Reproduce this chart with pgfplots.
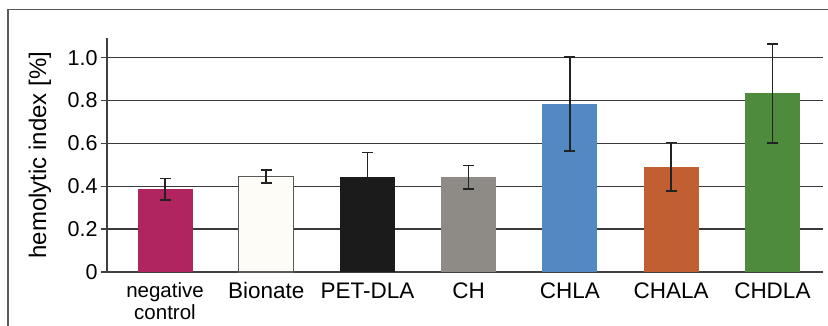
\documentclass[border=0pt]{standalone}
\usepackage{pgfplots}
\pgfplotsset{compat=1.18}
\usepackage{fontspec}
\setmainfont{Liberation Sans}
\definecolor{cNeg}{HTML}{B0245F}
\definecolor{cBio}{HTML}{FDFCF7}
\definecolor{cPet}{HTML}{1B1B1B}
\definecolor{cCH}{HTML}{8E8B86}
\definecolor{cCHLA}{HTML}{5389C2}
\definecolor{cCHALA}{HTML}{C15F32}
\definecolor{cCHDLA}{HTML}{4F8B3D}
\definecolor{gridc}{HTML}{3A3A3A}
\definecolor{errc}{HTML}{222222}
\begin{document}
\begin{tikzpicture}
\useasboundingbox (0pt,0pt) rectangle (828pt,325pt);
\draw[line width=1.2pt, color=black!65] (8pt,-20pt) |- (850pt,315.5pt);
\begin{axis}[
  at={(107pt,53pt)}, anchor=south west,
  scale only axis, width=716pt, height=234pt,
  xmin=-0.573, xmax=6.5, ymin=0, ymax=1.092,
  axis x line=bottom, axis y line=left,
  axis line style={-, line width=1.3pt, color=black!75},
  ytick={0,0.2,0.4,0.6,0.8,1.0},
  yticklabels={0,0.2,0.4,0.6,0.8,1.0},
  xtick={0,1,2,3,4,5,6},
  xticklabels={{\fontsize{20.5}{22}\selectfont negative}\\{\fontsize{20.5}{22}\selectfont control},Bionate,PET-DLA,CH,CHLA,CHALA,CHDLA},
  x tick label style={font=\fontsize{22.5}{22}\selectfont, align=center, anchor=north, yshift=-1pt},
  y tick label style={font=\fontsize{21.5}{22}\selectfont},
  major x tick style={draw=none},
  tick align=outside, major tick length=6pt,
  major y tick style={line width=1.3pt, color=black!75},
  ymajorgrids, major grid style={line width=1.3pt, color=gridc},
  ylabel={hemolytic index [\%]},
  ylabel style={font=\fontsize{24}{26}\selectfont, at={(axis description cs:-0.0936,0.5)}, anchor=center},
  ybar, bar width=55pt, bar shift=0pt,
  every axis plot/.append style={draw=none},
  error bars/y dir=both, error bars/y explicit,
  error bars/error bar style={line width=1.6pt, color=errc},
  error bars/error mark options={rotate=90, mark size=5.5pt, line width=1.6pt, color=errc},
]
\addplot[fill=cNeg] coordinates {(0,0.387) +- (0,0.050)};
\addplot[fill=cBio, draw=black!65, line width=1.2pt] coordinates {(1,0.445) +- (0,0.030)};
\addplot[fill=cPet, error bars/y dir=plus] coordinates {(2,0.445) +- (0,0.112)};
\addplot[fill=cCH] coordinates {(3,0.442) +- (0,0.055)};
\addplot[fill=cCHLA] coordinates {(4,0.784) +- (0,0.220)};
\addplot[fill=cCHALA] coordinates {(5,0.491) +- (0,0.113)};
\addplot[fill=cCHDLA] coordinates {(6,0.834) +- (0,0.231)};
\end{axis}
\end{tikzpicture}
\end{document}
